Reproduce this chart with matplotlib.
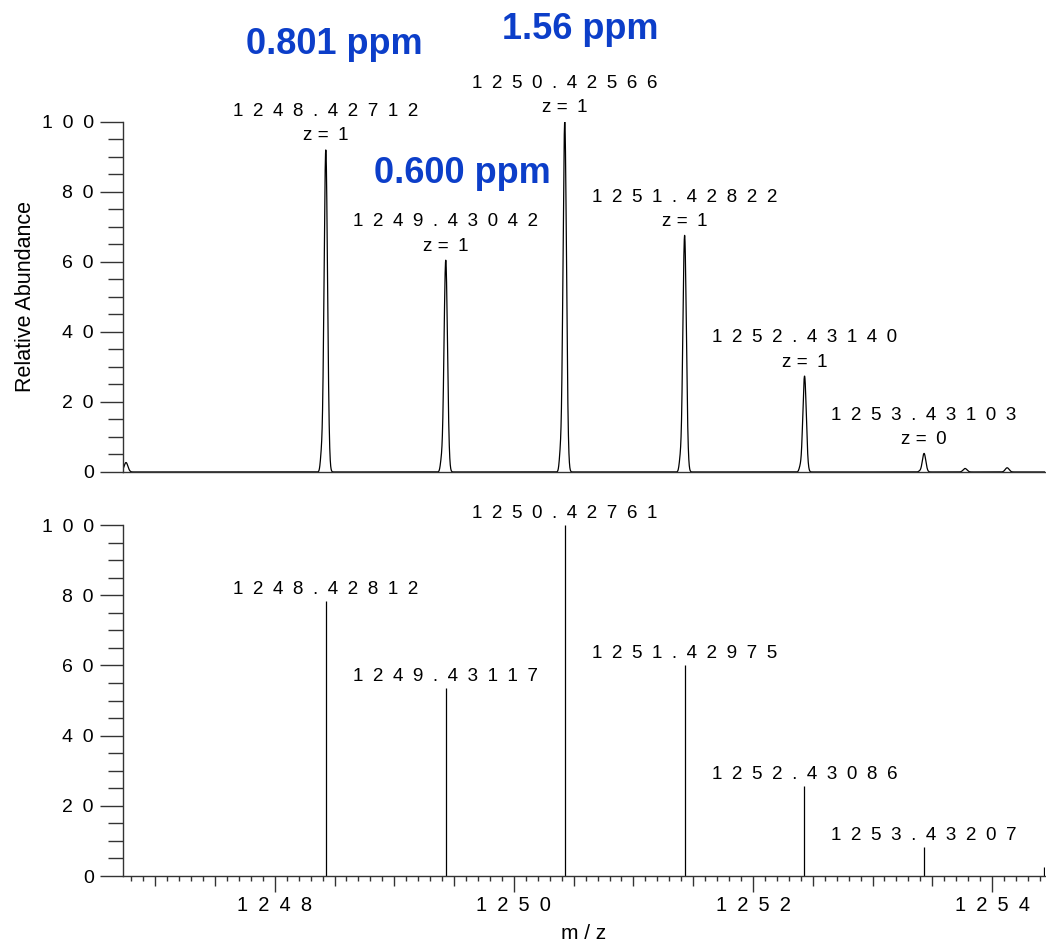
import numpy as np
import matplotlib.pyplot as plt
from matplotlib.ticker import FixedLocator, FuncFormatter

plt.rcParams['font.family'] = ['Liberation Sans', 'DejaVu Sans']

EN = '\u2002'  # wide gap between characters, like the instrument software

# profile spectrum (top panel): labelled isotope peaks
profile_mz = [1248.42712, 1249.43042, 1250.42566, 1251.42822, 1252.43140, 1253.43103]
profile_int = [92.0, 60.5, 100.0, 67.6, 27.4, 5.3]
profile_z = [1, 1, 1, 1, 1, 0]
# small unlabelled bumps in the profile
bump_mz = [1246.756, 1253.774, 1254.126]
bump_int = [2.7, 1.0, 1.2]

# centroid spectrum (bottom panel)
stick_mz = [1248.42812, 1249.43117, 1250.42761, 1251.42975, 1252.43086, 1253.43207, 1254.434]
stick_int = [78.3, 53.6, 100.0, 60.1, 25.6, 8.3, 2.5]
n_labelled = 6

# mass error notes
ppm_text = ['0.801 ppm', '1.56 ppm', '0.600 ppm']
ppm_mz = [1248.497, 1250.553, 1249.567]
ppm_y = [122.0, 126.3, 85.4]

x_min, x_max = 1246.731, 1254.443
BLUE = '#0c3ec9'
AX_COL = '#333333'


def spaced(s):
    return EN.join(s)


def profile(x):
    y = np.zeros_like(x)
    for m, h in zip(profile_mz, profile_int):
        y += h * np.exp(-0.5 * ((x - m) / 0.0145) ** 2)
        # small shoulder on the low mass side
        y += 0.04 * h * np.exp(-0.5 * ((x - m + 0.038) / 0.009) ** 2)
    for m, h in zip(bump_mz, bump_int):
        y += h * np.exp(-0.5 * ((x - m) / 0.016) ** 2)
    return y


def style_axes(ax):
    ax.set_xlim(x_min, x_max)
    ax.set_ylim(0, 100)
    for s in ('top', 'right'):
        ax.spines[s].set_visible(False)
    for s in ('left', 'bottom'):
        ax.spines[s].set_color(AX_COL)
        ax.spines[s].set_linewidth(1.0)
    ax.yaxis.set_major_locator(FixedLocator(np.arange(0, 101, 20)))
    ax.yaxis.set_minor_locator(FixedLocator([v for v in range(0, 101, 5) if v % 20]))
    ax.yaxis.set_major_formatter(FuncFormatter(lambda v, p: spaced(str(int(round(v))))))
    ax.tick_params(axis='y', which='major', length=16.5, width=1.0, color=AX_COL,
                   pad=4.5, labelsize=14)
    ax.tick_params(axis='y', which='minor', length=10.8, width=1.0, color=AX_COL)


fig = plt.figure(figsize=(10.46, 9.43), dpi=100)
ax1 = fig.add_axes([0.1176, 0.4995, 0.8815, 0.3712])
ax2 = fig.add_axes([0.1176, 0.0710, 0.8815, 0.3722])

# top: profile
x = np.linspace(x_min, x_max, 20000)
style_axes(ax1)
ax1.plot(x, profile(x), color='black', lw=0.9)
ax1.tick_params(axis='x', which='both', bottom=False, labelbottom=False)
ax1.set_ylabel('Relative Abundance', fontsize=15.5)
ax1.yaxis.set_label_coords(-0.094, 0.5)

for m, h, z in zip(profile_mz, profile_int, profile_z):
    ax1.annotate(spaced(f'{m:.5f}') + f'\nz ={EN}{z}', xy=(m, h), xytext=(0, 4),
                 textcoords='offset points', ha='center', va='bottom',
                 fontsize=13.6, linespacing=1.55, annotation_clip=False)

for t, m, yv in zip(ppm_text, ppm_mz, ppm_y):
    ax1.text(m, yv, t, ha='center', va='center', fontsize=26, fontweight='bold',
             color=BLUE, clip_on=False)

# bottom: centroids
style_axes(ax2)
ax2.vlines(stick_mz, 0, stick_int, color='black', lw=0.9)
for m, h in zip(stick_mz[:n_labelled], stick_int[:n_labelled]):
    ax2.annotate(spaced(f'{m:.5f}'), xy=(m, h), xytext=(0, 2),
                 textcoords='offset points', ha='center', va='bottom',
                 fontsize=13.6, annotation_clip=False)

major_x = [1248, 1250, 1252, 1254]
minor_x = [round(v, 1) for v in np.arange(1246.8, x_max, 0.1) if abs(v / 2 - round(v / 2)) > 1e-6]
ax2.xaxis.set_major_locator(FixedLocator(major_x))
ax2.xaxis.set_minor_locator(FixedLocator(minor_x))
ax2.xaxis.set_major_formatter(FuncFormatter(lambda v, p: spaced(str(int(round(v))))))
ax2.tick_params(axis='x', which='major', length=11.3, width=1.0, color=AX_COL,
                pad=3, labelsize=14.5)
ax2.tick_params(axis='x', which='minor', length=3.4, width=1.0, color=AX_COL)
ax2.set_xlabel('m / z', fontsize=15)
ax2.xaxis.set_label_coords(0.5, -0.138)

# half-unit ticks are a bit longer than the others
fig.canvas.draw()
for tick, loc in zip(ax2.xaxis.get_minor_ticks(), ax2.xaxis.get_minorticklocs()):
    if abs(loc * 2 - round(loc * 2)) < 1e-6:
        tick.tick1line.set_markersize(7.2)

fig.savefig('out.png', dpi=100, facecolor='white')
